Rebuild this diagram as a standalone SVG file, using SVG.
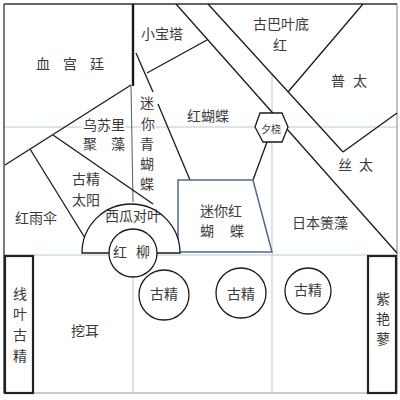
<svg xmlns="http://www.w3.org/2000/svg" width="400" height="400" viewBox="0 0 400 400">
<style>
text{font-family:"Noto Sans CJK SC","Noto Sans",sans-serif;font-size:14px;fill:#3a3a3a;text-anchor:middle;dominant-baseline:central}
.grid{stroke:#b9c9cc;stroke-width:1;fill:none}
.ln{stroke:#1a1a1a;stroke-width:1.3;fill:none}
.shape{stroke:#1a1a1a;stroke-width:1.3;fill:#fff}
.box{stroke:#222;stroke-width:2.2;fill:#fff}
.sm{font-size:10px}
.halo{stroke:#fff;stroke-width:3;paint-order:stroke}
</style>
<rect width="400" height="400" fill="#fff"/>
<g id="grid">
<line class="grid" x1="4" y1="127" x2="397" y2="127"/>
<line class="grid" x1="4" y1="255" x2="397" y2="255"/>
<line class="grid" x1="133" y1="277" x2="133" y2="393"/>
<line class="grid" x1="272" y1="73" x2="272" y2="113"/>
<line class="grid" x1="272" y1="142" x2="272" y2="393"/>
</g>
<g id="frame">
<line x1="4" y1="393" x2="397" y2="393" stroke="#999" stroke-width="1.2"/>
<line x1="397" y1="4" x2="397" y2="393" stroke="#999" stroke-width="1.2"/>
<line x1="4" y1="4" x2="397" y2="4" stroke="#333" stroke-width="1.3"/>
<line x1="4" y1="4" x2="4" y2="393" stroke="#333" stroke-width="1.3"/>
</g>
<g id="connectors">
<line x1="133" y1="4" x2="133" y2="86" stroke="#1a1a1a" stroke-width="2.4"/>
<line x1="131" y1="86" x2="133" y2="202" stroke="#666" stroke-width="1.1"/>
<line class="ln" x1="131" y1="85" x2="5" y2="165"/>
<line class="ln" x1="53" y1="135" x2="153" y2="204"/>
<line class="ln" x1="30" y1="149" x2="85" y2="238"/>
<line class="ln" x1="147" y1="73" x2="207" y2="40"/>
<line class="ln" x1="136" y1="53" x2="153" y2="92"/>
<line class="ln" x1="158" y1="104" x2="190" y2="180"/>
<line class="ln" x1="176" y1="4" x2="397" y2="253"/>
<line class="ln" x1="208" y1="4" x2="343" y2="152"/>
<line class="ln" x1="363" y1="4" x2="288" y2="92"/>
<line class="ln" x1="343" y1="152" x2="397" y2="113"/>
<line class="ln" x1="267" y1="142" x2="253" y2="180"/>
</g>
<g id="n-trapezoid">
<polygon points="178,180 253,180 272,252 178,252" fill="#fff" stroke="#4d6a86" stroke-width="1.5"/>
<text x="221" y="210">迷你红</text>
<text x="207" y="230">蝴</text>
<text x="237" y="230">蝶</text>
</g>
<g id="n-semicircle">
<path class="shape" d="M82,253 A49,49 0 0 1 180,253 Z"/>
<text x="133" y="215">西瓜对叶</text>
</g>
<g id="n-hongliu">
<circle class="shape" cx="133" cy="253" r="24"/>
<text x="120" y="251">红</text>
<text x="143" y="251">柳</text>
</g>
<g id="n-hexagon">
<polygon class="shape" points="260,113 282,113 288,127 282,142 263,142 255,127"/>
<text class="sm" x="271" y="128">夕桡</text>
</g>
<g id="n-gujing1">
<circle class="shape" cx="164" cy="295" r="25"/>
<text x="164" y="293">古精</text>
</g>
<g id="n-gujing2">
<circle class="shape" cx="241" cy="293" r="25"/>
<text x="241" y="293">古精</text>
</g>
<g id="n-gujing3">
<circle class="shape" cx="308" cy="291" r="23"/>
<text x="308" y="289">古精</text>
</g>
<g id="n-xianye">
<rect class="box" x="5" y="256" width="28" height="137"/>
<text x="20" y="293">线</text>
<text x="20" y="313">叶</text>
<text x="20" y="334">古</text>
<text x="20" y="355">精</text>
</g>
<g id="n-ziyan">
<rect class="box" x="368" y="256" width="28" height="137"/>
<text x="383" y="298">紫</text>
<text x="383" y="318">艳</text>
<text x="383" y="338">蓼</text>
</g>
<g id="labels">
<text x="43" y="63">血</text>
<text x="70" y="63">宫</text>
<text x="97" y="63">廷</text>
<text x="162" y="33">小宝塔</text>
<text x="281" y="23">古巴叶底</text>
<text x="280" y="44">红</text>
<text x="338" y="80">普</text>
<text x="360" y="80">太</text>
<text x="208" y="115">红蝴蝶</text>
<text x="345" y="164">丝</text>
<text x="366" y="164">太</text>
<text x="320" y="222">日本箦藻</text>
<text x="147" y="102">迷</text>
<text class="halo" x="148" y="123">你</text>
<text x="147" y="143">青</text>
<text x="147" y="163">蝴</text>
<text x="147" y="183">蝶</text>
<text class="halo" x="104" y="124">乌苏里</text>
<text x="90" y="143">聚</text>
<text x="118" y="143">藻</text>
<text x="86" y="178">古精</text>
<text x="86" y="199">太阳</text>
<text x="36" y="217">红雨伞</text>
<text x="85" y="330">挖耳</text>
</g>
</svg>
